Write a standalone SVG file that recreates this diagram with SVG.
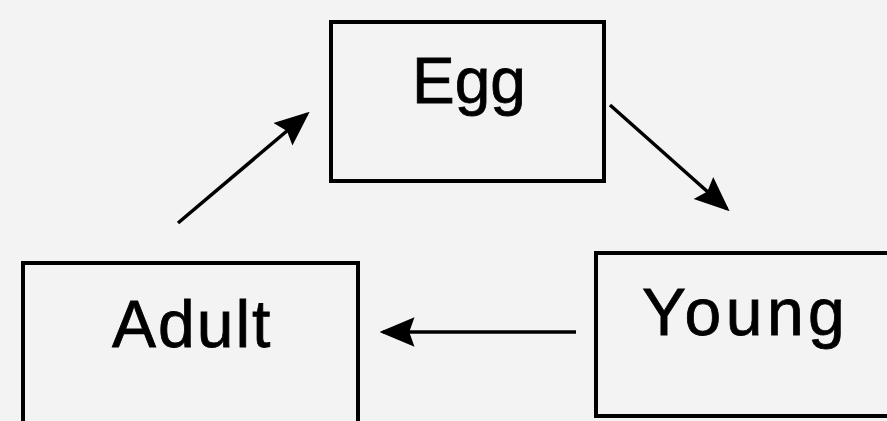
<svg xmlns="http://www.w3.org/2000/svg" width="887" height="421" viewBox="0 0 887 421">
<defs>
<marker id="ah" viewBox="0 0 10 10" refX="9" refY="5" markerWidth="10" markerHeight="10" markerUnits="strokeWidth" orient="auto">
<path d="M0,0.8 L10,5 L0,9.2 L1.5,5 Z" fill="#000"/>
</marker>
</defs>
<style>
.box{fill:none;stroke:#000;stroke-width:4}
.lbl{font-family:"Liberation Sans",Arial,sans-serif;fill:#000;stroke:#000;stroke-width:0.8}
.con{stroke:#000;stroke-width:3.5;fill:none}
</style>
<rect width="887" height="421" fill="#f3f3f3"/>
<g id="egg">
<rect class="box" x="331" y="22" width="273" height="159"/>
<text class="lbl" x="412" y="103" font-size="64">Egg</text>
</g>
<g id="young">
<rect class="box" x="596" y="253" width="300" height="163"/>
<text class="lbl" x="642" y="335" font-size="66" letter-spacing="4.5">Young</text>
</g>
<g id="adult">
<rect class="box" x="23" y="263" width="335" height="200"/>
<text class="lbl" x="112" y="347" font-size="66" letter-spacing="2">Adult</text>
</g>
<g id="connectors">
<line class="con" x1="178" y1="223" x2="307" y2="114" marker-end="url(#ah)"/>
<line class="con" x1="610" y1="105" x2="727" y2="209" marker-end="url(#ah)"/>
<line class="con" x1="576" y1="332" x2="383" y2="332" marker-end="url(#ah)"/>
</g>
</svg>
